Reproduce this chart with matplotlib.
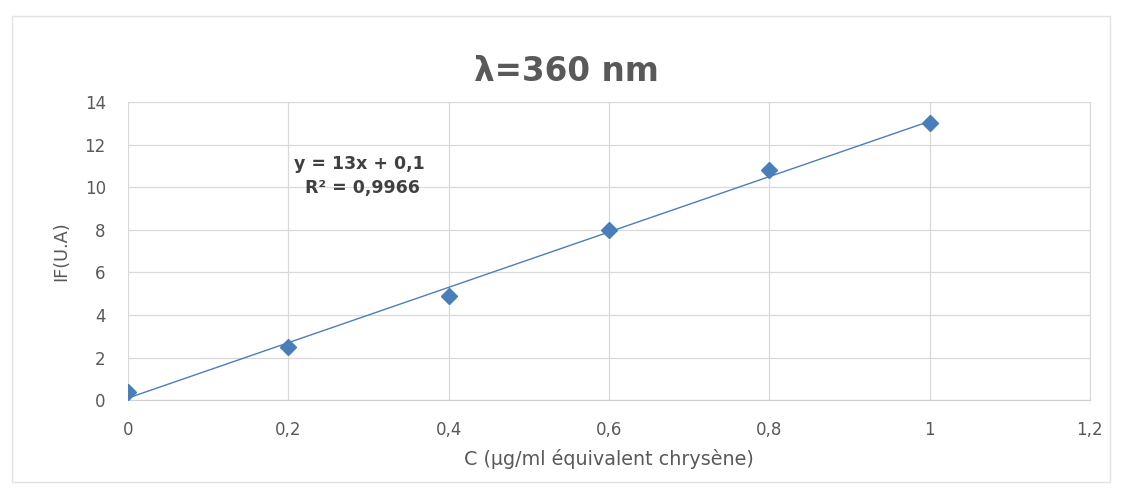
import numpy as np
import matplotlib
matplotlib.use("Agg")
import matplotlib.pyplot as plt
from matplotlib.patches import Rectangle

plt.rcParams['font.family'] = ['DejaVu Sans']

# Concentration (µg/ml équivalent chrysène) vs fluorescence intensity
conc = [0, 0.2, 0.4, 0.6, 0.8, 1.0]
intensity = [0.4, 2.5, 4.9, 8.0, 10.8, 13.0]

# linear trendline as reported on the chart
slope = 13
intercept = 0.1
r2 = 0.9966

xticks = [0, 0.2, 0.4, 0.6, 0.8, 1.0, 1.2]
xtick_labels = ['0', '0,2', '0,4', '0,6', '0,8', '1', '1,2']
yticks = [0, 2, 4, 6, 8, 10, 12, 14]

blue = '#4a7ebb'
grey_txt = '#595959'

fig = plt.figure(figsize=(11.29, 4.91), dpi=100)
fig.patches.append(Rectangle((0.011, 0.018), 0.972, 0.95, transform=fig.transFigure,
                             fill=False, edgecolor='#e3e3e3', linewidth=1.0))

ax = fig.add_axes([0.1134, 0.185, 0.852, 0.607])

xs = np.array([0, 1.0])
ax.plot(xs, slope * xs + intercept, color=blue, linewidth=1.0, zorder=2)
ax.plot(conc, intensity, linestyle='none', marker='D', markersize=8,
        color=blue, markeredgecolor=blue, zorder=3)

ax.set_xlim(0, 1.2)
ax.set_ylim(0, 14)
ax.set_xticks(xticks)
ax.set_xticklabels(xtick_labels)
ax.set_yticks(yticks)
ax.grid(True, color='#d9d9d9', linewidth=0.9)
ax.set_axisbelow(True)
for side in ['top', 'left']:
    ax.spines[side].set_visible(False)
ax.spines['right'].set_color('#d9d9d9')
ax.spines['bottom'].set_color('#d0d0d0')
ax.tick_params(length=0, colors=grey_txt, labelsize=12)
ax.tick_params(axis='x', pad=15)
ax.tick_params(axis='y', pad=16)

ax.set_xlabel('C (µg/ml équivalent chrysène)', color=grey_txt, fontsize=13.8, labelpad=7)
ax.set_ylabel('IF(U.A)', color=grey_txt, fontsize=12.8, labelpad=10)

fig.text(0.502, 0.855, 'λ=360 nm', ha='center', va='center', fontsize=23.5,
         fontweight='bold', color=grey_txt)

ax.text(0.289, 11.1, f'y = {slope}x + {str(intercept).replace(".", ",")}',
        ha='center', va='center', fontsize=12.5, color='#404040', fontweight='bold')
ax.text(0.293, 9.95, f'R² = {str(r2).replace(".", ",")}',
        ha='center', va='center', fontsize=12.5, color='#404040', fontweight='bold')

fig.savefig('out.png', dpi=100)
